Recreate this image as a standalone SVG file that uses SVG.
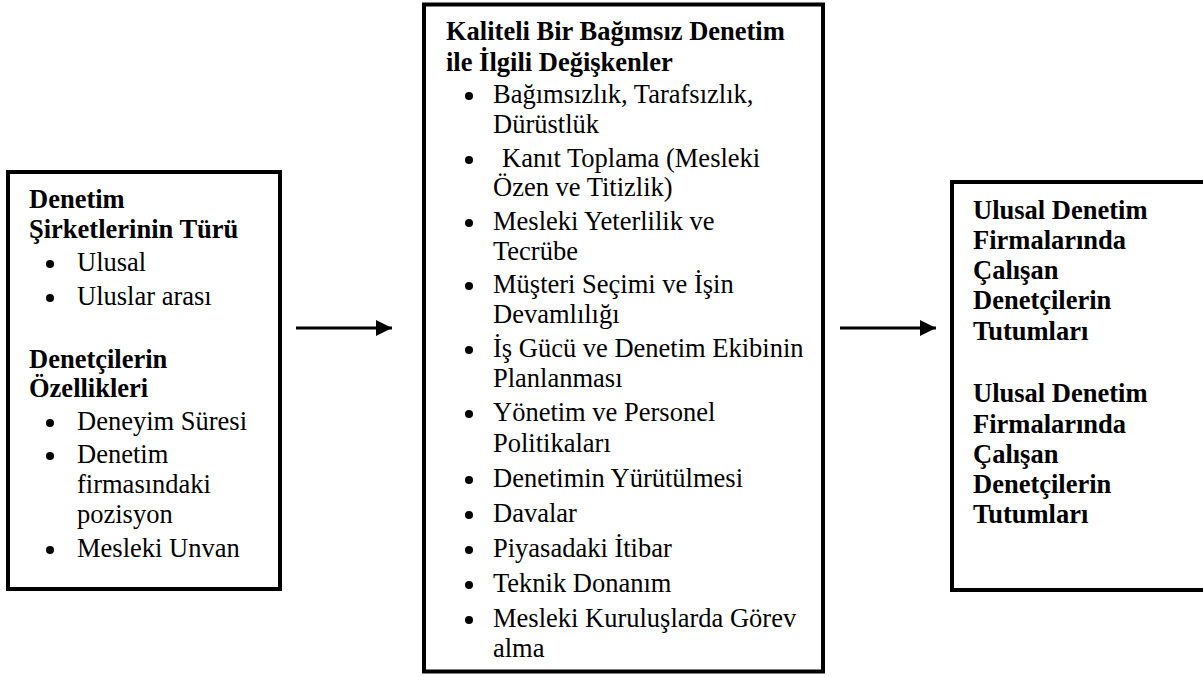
<svg xmlns="http://www.w3.org/2000/svg" width="1203" height="677" viewBox="0 0 1203 677">
<defs>
<marker id="arrow" markerUnits="userSpaceOnUse" markerWidth="16" markerHeight="16" refX="16" refY="8" orient="auto">
<path d="M0,0 L16,8 L0,16 Z" fill="#000"/>
</marker>
<style>
.box{fill:#fff;stroke:#000;stroke-width:4}
.t{font-size:26.5px;fill:#000}
.b{font-weight:bold}
.dot{fill:#000}
.conn{stroke:#000;stroke-width:3;fill:none}
</style>
</defs>
<rect width="1203" height="677" fill="#fff"/>
<g font-family="Liberation Serif, Tinos, Times New Roman, serif">
<g id="node-left">
<rect class="box" x="8" y="172" width="272" height="417"/>
<text class="t b" x="29" y="208">Denetim</text>
<text class="t b" x="29" y="238">Şirketlerinin Türü</text>
<circle class="dot" cx="50" cy="264" r="4"/>
<text class="t" x="77" y="271">Ulusal</text>
<circle class="dot" cx="50" cy="298" r="4"/>
<text class="t" x="77" y="305">Uluslar arası</text>
<text class="t b" x="29" y="368">Denetçilerin</text>
<text class="t b" x="29" y="397">Özellikleri</text>
<circle class="dot" cx="50" cy="423" r="4"/>
<text class="t" x="77" y="430">Deneyim Süresi</text>
<circle class="dot" cx="50" cy="456" r="4"/>
<text class="t" x="77" y="463">Denetim</text>
<text class="t" x="77" y="493">firmasındaki</text>
<text class="t" x="77" y="523">pozisyon</text>
<circle class="dot" cx="50" cy="550" r="4"/>
<text class="t" x="77" y="557">Mesleki Unvan</text>
</g>
<g id="node-middle">
<rect class="box" x="424" y="4.5" width="399" height="667"/>
<text class="t b" x="446" y="40">Kaliteli Bir Bağımsız Denetim</text>
<text class="t b" x="446" y="71">ile İlgili Değişkenler</text>
<circle class="dot" cx="469" cy="96" r="4"/>
<text class="t" x="493" y="103">Bağımsızlık, Tarafsızlık,</text>
<text class="t" x="493" y="133">Dürüstlük</text>
<circle class="dot" cx="469" cy="160" r="4"/>
<text class="t" x="502" y="167">Kanıt Toplama (Mesleki</text>
<text class="t" x="493" y="196">Özen ve Titizlik)</text>
<circle class="dot" cx="469" cy="223" r="4"/>
<text class="t" x="493" y="230">Mesleki Yeterlilik ve</text>
<text class="t" x="493" y="260">Tecrübe</text>
<circle class="dot" cx="469" cy="286" r="4"/>
<text class="t" x="493" y="293">Müşteri Seçimi ve İşin</text>
<text class="t" x="493" y="323">Devamlılığı</text>
<circle class="dot" cx="469" cy="350" r="4"/>
<text class="t" x="493" y="357">İş Gücü ve Denetim Ekibinin</text>
<text class="t" x="493" y="387">Planlanması</text>
<circle class="dot" cx="469" cy="414" r="4"/>
<text class="t" x="493" y="421">Yönetim ve Personel</text>
<text class="t" x="493" y="452">Politikaları</text>
<circle class="dot" cx="469" cy="480" r="4"/>
<text class="t" x="493" y="487">Denetimin Yürütülmesi</text>
<circle class="dot" cx="469" cy="515" r="4"/>
<text class="t" x="493" y="522">Davalar</text>
<circle class="dot" cx="469" cy="550" r="4"/>
<text class="t" x="493" y="557">Piyasadaki İtibar</text>
<circle class="dot" cx="469" cy="585" r="4"/>
<text class="t" x="493" y="592">Teknik Donanım</text>
<circle class="dot" cx="469" cy="620" r="4"/>
<text class="t" x="493" y="627">Mesleki Kuruluşlarda Görev</text>
<text class="t" x="493" y="657">alma</text>
</g>
<g id="node-right">
<rect class="box" x="952" y="182" width="260" height="408"/>
<text class="t b" x="973" y="219">Ulusal Denetim</text>
<text class="t b" x="973" y="249">Firmalarında</text>
<text class="t b" x="973" y="279">Çalışan</text>
<text class="t b" x="973" y="309">Denetçilerin</text>
<text class="t b" x="973" y="340">Tutumları</text>
<text class="t b" x="973" y="402">Ulusal Denetim</text>
<text class="t b" x="973" y="433">Firmalarında</text>
<text class="t b" x="973" y="463">Çalışan</text>
<text class="t b" x="973" y="493">Denetçilerin</text>
<text class="t b" x="973" y="523">Tutumları</text>
</g>
</g>
<g id="connectors">
<line class="conn" x1="296" y1="328" x2="392" y2="328" marker-end="url(#arrow)"/>
<line class="conn" x1="840" y1="328" x2="936" y2="328" marker-end="url(#arrow)"/>
</g>
</svg>
